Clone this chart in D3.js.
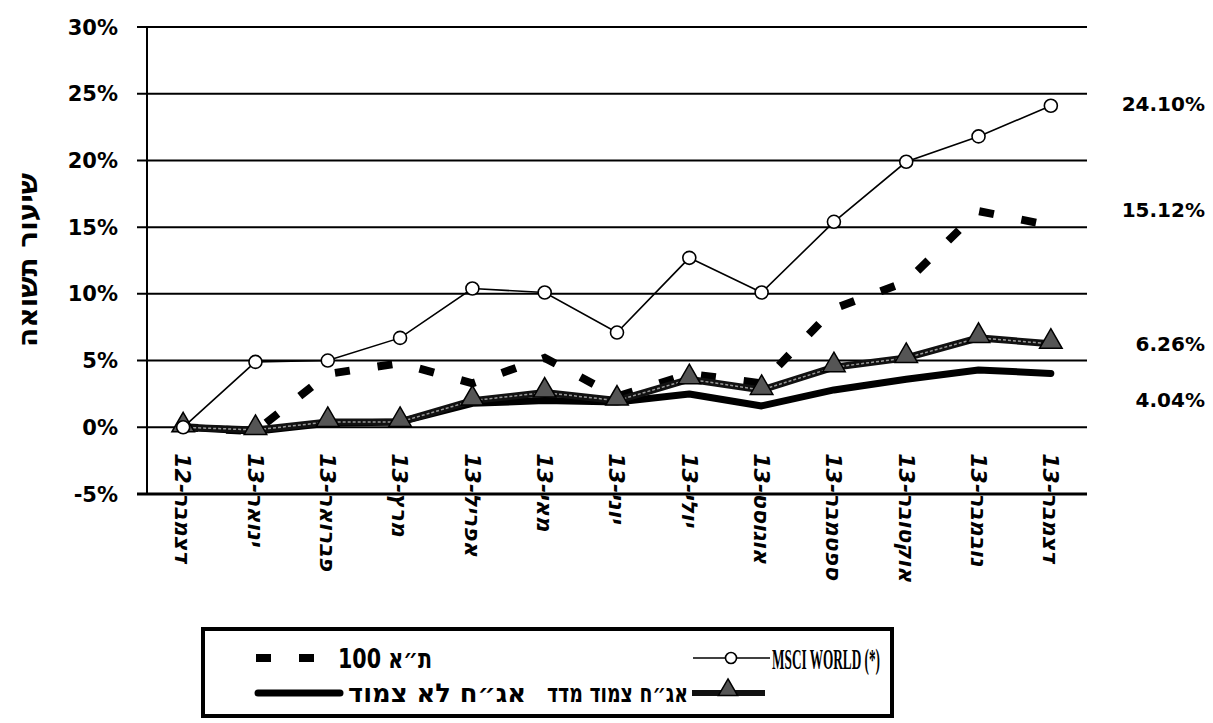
<!DOCTYPE html>
<html>
<head>
<meta charset="utf-8">
<script src="https://cdn.jsdelivr.net/npm/d3@7"></script>
<style>
  body { margin: 0; background: #fff; }
  svg { display: block; }
</style>
</head>
<body>
<svg id="chart"></svg>
<script>
// data (percent change)
const months = ["דצמבר-12", "ינואר-13", "פברואר-13", "מרץ-13", "אפריל-13", "מאי-13", "יוני-13",
  "יולי-13", "אוגוסט-13", "ספטמבר-13", "אוקטובר-13", "נובמבר-13", "דצמבר-13"];
const msciWorld = [0, 4.9, 5.0, 6.7, 10.4, 10.1, 7.1, 12.7, 10.1, 15.4, 19.9, 21.8, 24.10];
const ta100 = [0, -0.3, 4.0, 4.8, 3.3, 5.2, 2.3, 4.0, 3.3, 8.9, 10.9, 16.2, 15.12];
const bondsLinked = [0, -0.2, 0.4, 0.4, 2.0, 2.6, 2.0, 3.6, 2.8, 4.5, 5.2, 6.7, 6.26];
const bondsUnlinked = [0, -0.3, 0.3, 0.4, 1.8, 2.0, 1.9, 2.5, 1.6, 2.8, 3.6, 4.3, 4.04];
const yTicks = [-5, 0, 5, 10, 15, 20, 25, 30];
const seriesNames = ["ת״א 100", "MSCI WORLD (*)", "אג״ח לא צמוד", "אג״ח צמוד מדד"];
const endLabels = ["24.10%", "15.12%", "6.26%", "4.04%"];
const yTitle = "שיעור תשואה";

const W = 1213, H = 723;
const plotLeft = 147, plotRight = 1087, plotTop = 27, plotBottom = 494;

const svg = d3.select("#chart").attr("width", W).attr("height", H);

const x = d3.scalePoint().domain(months).range([plotLeft, plotRight]).padding(0.5);
const y = d3.scaleLinear().domain([-5, 30]).range([plotBottom, plotTop]);

const boldSans = "'DejaVu Sans', Verdana, sans-serif";
const serif = "'Liberation Serif', 'DejaVu Sans', serif";

// gridlines + small ticks left of the axis
svg.append("g").selectAll("line")
  .data(yTicks)
  .enter()
  .append("line")
  .attr("x1", plotLeft - 10)
  .attr("x2", plotRight)
  .attr("y1", d => y(d))
  .attr("y2", d => y(d))
  .attr("stroke", "#000")
  .attr("stroke-width", d => d === -5 ? 3 : 2);

svg.append("line")
  .attr("x1", plotLeft).attr("x2", plotLeft)
  .attr("y1", y(30)).attr("y2", y(-5))
  .attr("stroke", "#000").attr("stroke-width", 2);

svg.append("g").selectAll("text")
  .data(yTicks)
  .enter()
  .append("text")
  .attr("x", 118)
  .attr("y", d => y(d))
  .attr("dy", "0.36em")
  .attr("text-anchor", "end")
  .style("font-family", boldSans)
  .style("font-weight", "bold")
  .style("font-size", "21px")
  .text(d => d + "%");

// y title
svg.append("text")
  .attr("transform", `translate(27, 260) rotate(-90)`)
  .attr("text-anchor", "middle")
  .attr("dy", "0.35em")
  .style("font-family", boldSans)
  .style("font-weight", "bold")
  .style("font-size", "28px")
  .text(yTitle);

// category labels, hanging below the 0% line
svg.append("g").selectAll("text")
  .data(months)
  .enter()
  .append("text")
  .attr("transform", d => `translate(${x(d)}, ${y(0) + 26}) rotate(90)`)
  .attr("dy", "0.35em")
  .attr("text-anchor", "start")
  .style("font-family", boldSans)
  .style("font-weight", "bold")
  .style("font-style", "italic")
  .style("font-size", "22px")
  .text(d => d);

const line = d3.line().x((d, i) => x(months[i])).y(d => y(d));

// ת"א 100 - thick dashed
svg.append("path")
  .datum(ta100)
  .attr("d", line)
  .attr("fill", "none")
  .attr("stroke", "#000")
  .attr("stroke-width", 8)
  .attr("stroke-dasharray", "15,28");

// unlinked bonds - thick solid
svg.append("path")
  .datum(bondsUnlinked)
  .attr("d", line)
  .attr("fill", "none")
  .attr("stroke", "#000")
  .attr("stroke-width", 7)
  .attr("stroke-linejoin", "round")
  .attr("stroke-linecap", "round");

// linked bonds - grey-cored line with triangles
svg.append("path")
  .datum(bondsLinked)
  .attr("d", line)
  .attr("fill", "none")
  .attr("stroke", "#111")
  .attr("stroke-width", 7);
svg.append("path")
  .datum(bondsLinked)
  .attr("d", line)
  .attr("fill", "none")
  .attr("stroke", "#999")
  .attr("stroke-width", 1.5)
  .attr("stroke-dasharray", "3,2");

const tri = d3.symbol().type(d3.symbolTriangle).size(220);
svg.append("g").selectAll("path")
  .data(bondsLinked)
  .enter()
  .append("path")
  .attr("d", tri)
  .attr("transform", (d, i) => `translate(${x(months[i])}, ${y(d) - 2})`)
  .attr("fill", "#555")
  .attr("stroke", "#000")
  .attr("stroke-width", 1.5);

// MSCI World - thin line with open circles
svg.append("path")
  .datum(msciWorld)
  .attr("d", line)
  .attr("fill", "none")
  .attr("stroke", "#000")
  .attr("stroke-width", 1.6);

svg.append("g").selectAll("circle")
  .data(msciWorld)
  .enter()
  .append("circle")
  .attr("cx", (d, i) => x(months[i]))
  .attr("cy", d => y(d))
  .attr("r", 6.5)
  .attr("fill", "#fff")
  .attr("stroke", "#000")
  .attr("stroke-width", 1.6);

// end-of-year values on the right
const lastIdx = months.length - 1;
const endValues = [msciWorld[lastIdx], ta100[lastIdx], bondsLinked[lastIdx], bondsUnlinked[lastIdx]];
const endOffsets = [-2, -16, 0, 26];
svg.append("g").selectAll("text")
  .data(endLabels)
  .enter()
  .append("text")
  .attr("x", 1205)
  .attr("y", (d, i) => y(endValues[i]) + endOffsets[i])
  .attr("dy", "0.36em")
  .attr("text-anchor", "end")
  .style("font-family", boldSans)
  .style("font-weight", "bold")
  .style("font-size", "20px")
  .text(d => d);

// legend box
const legend = svg.append("g");
legend.append("rect")
  .attr("x", 203).attr("y", 629)
  .attr("width", 689).attr("height", 87)
  .attr("fill", "none")
  .attr("stroke", "#000")
  .attr("stroke-width", 4);

const row1 = 658, row2 = 693;

function legendText(str, x0, yy, len, size, family) {
  legend.append("text")
    .attr("x", x0).attr("y", yy).attr("dy", "0.36em")
    .attr("textLength", len).attr("lengthAdjust", "spacingAndGlyphs")
    .style("font-family", family).style("font-weight", "bold").style("font-size", size + "px")
    .text(str);
}

// ת"א 100
legend.append("line")
  .attr("x1", 256).attr("x2", 314)
  .attr("y1", row1).attr("y2", row1)
  .attr("stroke", "#000").attr("stroke-width", 8)
  .attr("stroke-dasharray", "15,28");
legendText(seriesNames[0], 338, row1, 94, 27, boldSans);

// MSCI WORLD
legend.append("line")
  .attr("x1", 693).attr("x2", 770)
  .attr("y1", row1).attr("y2", row1)
  .attr("stroke", "#000").attr("stroke-width", 1.6);
legend.append("circle")
  .attr("cx", 731).attr("cy", row1).attr("r", 5.5)
  .attr("fill", "#fff").attr("stroke", "#000").attr("stroke-width", 1.6);
legendText(seriesNames[1], 772, row1, 108, 30, serif);

// unlinked bonds
legend.append("line")
  .attr("x1", 258).attr("x2", 340)
  .attr("y1", row2).attr("y2", row2)
  .attr("stroke", "#000").attr("stroke-width", 7)
  .attr("stroke-linecap", "round");
legendText(seriesNames[2], 348, row2, 178, 26, boldSans);

// linked bonds
legendText(seriesNames[3], 547, row2, 141, 26, boldSans);
legend.append("line")
  .attr("x1", 692).attr("x2", 765)
  .attr("y1", row2).attr("y2", row2)
  .attr("stroke", "#111").attr("stroke-width", 6);
legend.append("path")
  .attr("d", d3.symbol().type(d3.symbolTriangle).size(160))
  .attr("transform", `translate(728, ${row2 - 3})`)
  .attr("fill", "#555").attr("stroke", "#000").attr("stroke-width", 1.5);
</script>
</body>
</html>
